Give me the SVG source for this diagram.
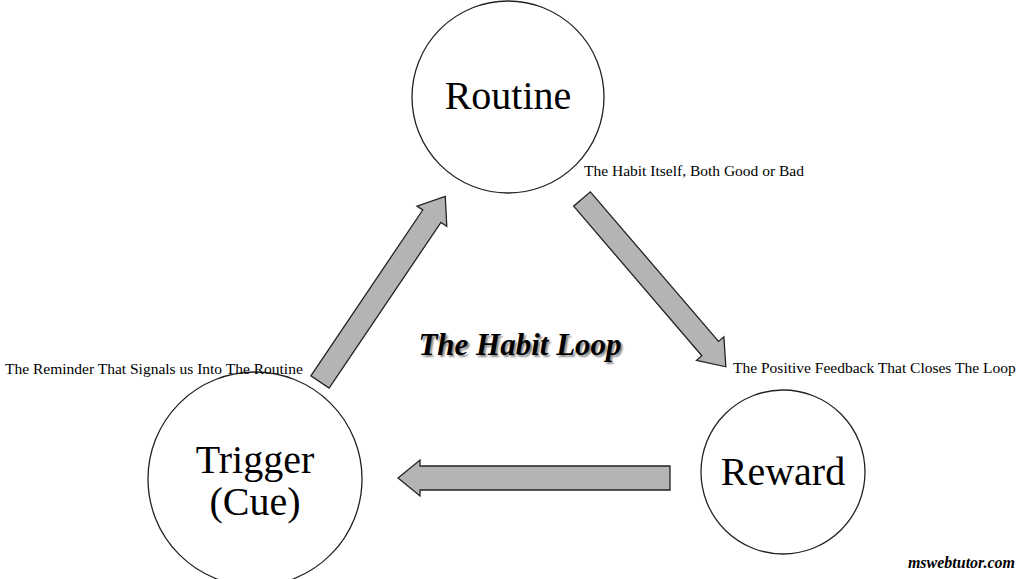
<svg xmlns="http://www.w3.org/2000/svg" width="1024" height="579" viewBox="0 0 1024 579">
<style>
.n{fill:#fff;stroke:#222;stroke-width:1.3}
.t{font-family:"Liberation Serif",serif;fill:#000;text-anchor:middle}
.s{font-family:"Liberation Serif",serif;font-size:15.5px;fill:#000}
.a{fill:#b4b4b4;stroke:#222;stroke-width:1.3}
</style>
<rect width="1024" height="579" fill="#fff"/>
<g id="connectors">
<path class="a" transform="translate(320,382) rotate(-56)" d="M0,-11 L200,-11 L200,-18 L224,0 L200,18 L200,11 L0,11 Z"/>
<path class="a" transform="translate(582,199) rotate(49.4)" d="M0,-11 L197,-11 L197,-18 L221,0 L197,18 L197,11 L0,11 Z"/>
<path class="a" transform="translate(670,478) rotate(180)" d="M0,-12 L250,-12 L250,-18 L272,0 L250,18 L250,12 L0,12 Z"/>
</g>
<g id="routine"><circle class="n" cx="508" cy="97" r="96"/><text class="t" x="508" y="109" font-size="40">Routine</text></g>
<g id="trigger"><circle class="n" cx="255" cy="479" r="107"/><text class="t" x="255" y="473" font-size="40">Trigger</text><text class="t" x="255" y="515" font-size="40">(Cue)</text></g>
<g id="reward"><circle class="n" cx="783" cy="472" r="82"/><text class="t" x="783" y="485" font-size="40">Reward</text></g>
<text class="s" x="584" y="176">The Habit Itself, Both Good or Bad</text>
<text class="s" x="5" y="374">The Reminder That Signals us Into The Routine</text>
<text class="s" x="733" y="373">The Positive Feedback That Closes The Loop</text>
<text class="t" x="520" y="355" font-size="31" font-weight="bold" font-style="italic" style="text-shadow:2px 2px 2px #888">The Habit Loop</text>
<text x="1015" y="568" text-anchor="end" font-family="Liberation Serif,serif" font-size="16" font-weight="bold" font-style="italic">mswebtutor.com</text>
</svg>
